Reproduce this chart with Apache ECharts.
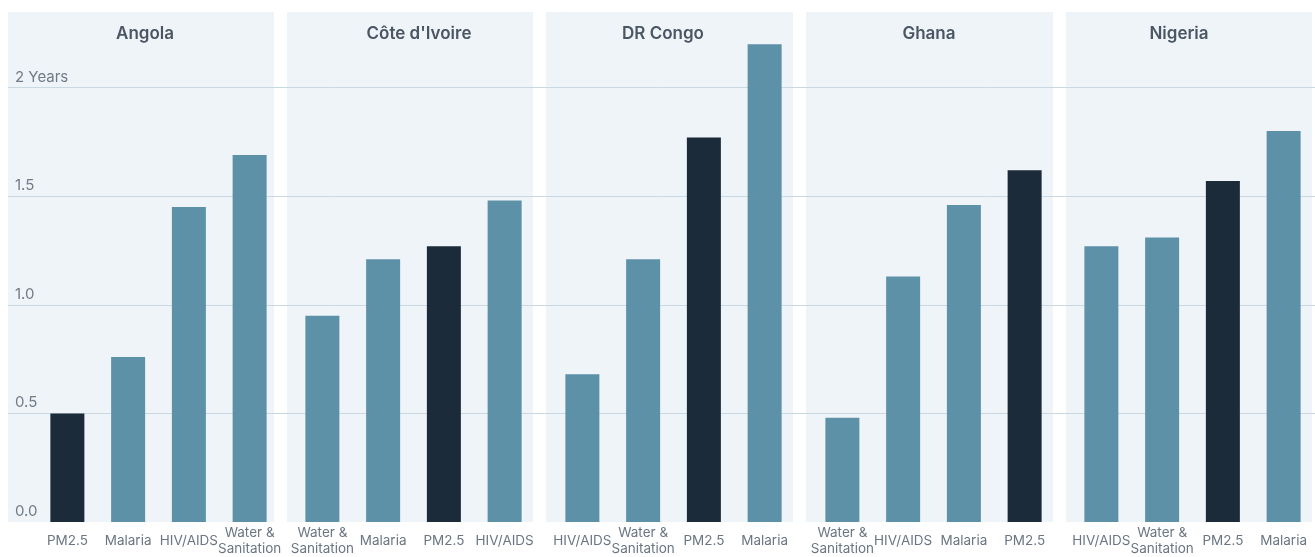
<!DOCTYPE html>
<html>
<head>
<meta charset="utf-8">
<script src="https://cdn.jsdelivr.net/npm/echarts@6/dist/echarts.min.js"></script>
<style>
html,body{margin:0;padding:0;background:#ffffff;}
#chart{width:1315px;height:557px;}
</style>
</head>
<body>
<div id="chart"></div>
<script>
// ---- data ----
const panelNames = ['Angola', "Côte d'Ivoire", 'DR Congo', 'Ghana', 'Nigeria'];
const catsAngola  = ['PM2.5', 'Malaria', 'HIV/AIDS', 'Water &\nSanitation'];
const valsAngola  = [0.50, 0.76, 1.45, 1.69];
const catsCote    = ['Water &\nSanitation', 'Malaria', 'PM2.5', 'HIV/AIDS'];
const valsCote    = [0.95, 1.21, 1.27, 1.48];
const catsDRC     = ['HIV/AIDS', 'Water &\nSanitation', 'PM2.5', 'Malaria'];
const valsDRC     = [0.68, 1.21, 1.77, 2.20];
const catsGhana   = ['Water &\nSanitation', 'HIV/AIDS', 'Malaria', 'PM2.5'];
const valsGhana   = [0.48, 1.13, 1.46, 1.62];
const catsNigeria = ['HIV/AIDS', 'Water &\nSanitation', 'PM2.5', 'Malaria'];
const valsNigeria = [1.27, 1.31, 1.57, 1.80];
const yTicks      = [0, 0.5, 1.0, 1.5, 2];
const yTickLabels = ['0.0', '0.5', '1.0', '1.5', '2 Years'];

// ---- layout / style ----
const FONT = 'Inter, "Liberation Sans", sans-serif';
const DARK = '#1b2b39', LIGHT = '#5d91a8', PANEL_BG = '#eff4f9';
const TOP = 12, BOTTOM = 35, YMAX = 2.348;
const panelRects = [[8, 266], [287, 246], [546, 247], [806, 247], [1066, 246]];
const titleCenters = [145, 419, 663, 929, 1179];
const bandLefts = [37, 292, 552, 812, 1071];
const BAND_W = 243;

const cats = [catsAngola, catsCote, catsDRC, catsGhana, catsNigeria];
const vals = [valsAngola, valsCote, valsDRC, valsGhana, valsNigeria];

const grids = [{left: 8, right: 0, top: TOP, bottom: BOTTOM}];
const xAxes = [{gridIndex: 0, type: 'category', data: ['a'], show: false}];
const yAxes = [{
  gridIndex: 0, type: 'value', min: 0, max: YMAX, interval: 0.5,
  axisLine: {show: false}, axisTick: {show: false},
  splitLine: {show: true, showMinLine: false, showMaxLine: false, lineStyle: {color: '#c9d9e3', width: 1}},
  axisLabel: {
    inside: true, margin: 7, color: '#707b87', fontSize: 15, fontFamily: FONT,
    verticalAlign: 'bottom', padding: [0, 0, 3, 0],
    formatter: function (v) {
      for (let i = 0; i < yTicks.length; i++) {
        if (Math.abs(v - yTicks[i]) < 1e-6) return yTickLabels[i];
      }
      return '';
    }
  }
}];
const series = [];
const titles = [];
const graphics = [];

panelNames.forEach(function (name, i) {
  const gi = i + 1;
  grids.push({left: bandLefts[i], width: BAND_W, top: TOP, bottom: BOTTOM});
  xAxes.push({
    gridIndex: gi, type: 'category', data: cats[i],
    axisLine: {show: false}, axisTick: {show: false},
    axisLabel: {interval: 0, color: '#6b7682', fontSize: 13.5, fontFamily: FONT,
      verticalAlign: 'middle', margin: 19, lineHeight: 16}
  });
  yAxes.push({
    gridIndex: gi, type: 'value', min: 0, max: YMAX, interval: 0.5, show: false,
    splitLine: {show: false}
  });
  series.push({
    type: 'bar', xAxisIndex: gi, yAxisIndex: gi, barWidth: 34,
    data: vals[i].map(function (v, k) {
      return {value: v, itemStyle: {color: cats[i][k] === 'PM2.5' ? DARK : LIGHT}};
    })
  });
  const r = panelRects[i];
  graphics.push({
    type: 'rect', z: -100, silent: true,
    shape: {x: r[0], y: TOP, width: r[1], height: 522 - TOP},
    style: {fill: PANEL_BG}
  });
  titles.push({
    text: name, left: titleCenters[i], top: 25, textAlign: 'center', padding: 0,
    textStyle: {fontFamily: FONT, fontSize: 17, fontWeight: 600, color: '#4a5663'}
  });
});

const chart = echarts.init(document.getElementById('chart'), null, {renderer: 'canvas'});
chart.setOption({
  backgroundColor: '#ffffff',
  animation: false,
  title: titles,
  graphic: graphics,
  grid: grids,
  xAxis: xAxes,
  yAxis: yAxes,
  series: series
});
</script>
</body>
</html>
